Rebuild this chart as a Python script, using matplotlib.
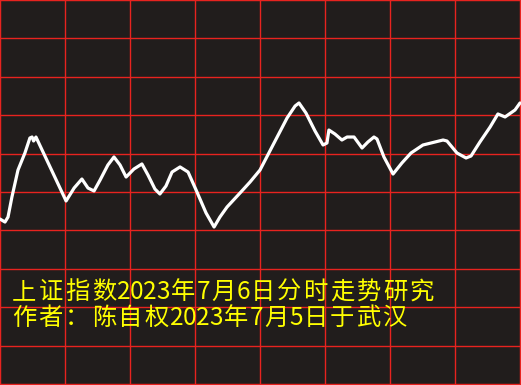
import matplotlib
matplotlib.use("Agg")
import matplotlib.pyplot as plt

# minutes since open (0..240) and index level
minutes = [0, 2.3, 3.7, 5.5, 8.3, 11.5, 13.8, 14.8, 15.5, 16.6, 30.5, 34.2, 37.8, 40.6,
           43.4, 46.2, 49.8, 52.6, 55.4, 58.2, 61.8, 65.5, 68.3, 71.5, 73.8, 76.6,
           79.4, 83.1, 86.8, 90.5, 95.1, 98.8, 101.5, 104.8, 111.2, 115.4, 120,
           126, 132.5, 136.2, 138, 141.2, 145.4, 149.1, 150.9, 151.8, 154.6, 157.8,
           160.2, 163.4, 167.1, 169.8, 172.6, 174, 177.2, 181.4, 185.5, 189.7,
           195.2, 204.5, 206.3, 210.9, 215.1, 217.4, 221.5, 226.2, 229.8, 233.1,
           237.7, 240]
index = [3201.48, 3201.09, 3201.74, 3204.35, 3207.86, 3210.08, 3212.03, 3212.16,
         3211.64, 3212.16, 3203.83, 3205.52, 3206.69, 3205.52, 3205.13, 3206.56,
         3208.52, 3209.56, 3208.52, 3206.95, 3207.99, 3208.65, 3207.21, 3205.39,
         3204.74, 3205.78, 3207.60, 3208.26, 3207.60, 3205.26, 3202.27, 3200.44,
         3201.74, 3203.05, 3205.00, 3206.30, 3207.86, 3211.12, 3214.64, 3216.20,
         3216.59, 3215.29, 3212.94, 3211.12, 3211.38, 3213.07, 3212.55, 3211.77,
         3212.16, 3212.16, 3210.73, 3211.51, 3212.16, 3211.90, 3209.56, 3207.34,
         3208.78, 3210.08, 3211.12, 3211.77, 3211.64, 3210.08, 3209.43, 3209.69,
         3211.51, 3213.46, 3215.16, 3214.77, 3215.68, 3216.59]

title1 = "上证指数2023年7月6日分时走势研究"
title2 = "作者：陈自权2023年7月5日于武汉"

bg = "#211d1c"
red = "#e8231f"
W, H = 521, 385

fig = plt.figure(figsize=(W / 100, H / 100), dpi=100, facecolor=bg)
ax = fig.add_axes([0, 0, 1, 1])
ax.set_facecolor(bg)

ax.plot(minutes, index, color="white", lw=2.3, solid_joinstyle="round", solid_capstyle="round", zorder=3)

ax.set_xlim(0, 240 * 521 / 520)
ax.set_ylim(3230 - 385 * 50 / 384, 3230)
ax.set_xticks(range(0, 241, 30))
ax.set_yticks(range(3180, 3231, 5))
ax.grid(True, color=red, lw=1.0)
ax.tick_params(length=0, labelleft=False, labelbottom=False)
for s in ax.spines.values():
    s.set_color(red)
    s.set_linewidth(1.5)

fnt = ["Noto Sans CJK SC", "DejaVu Sans"]


def put_line(s, x0, yc, adv=26.5):
    # fixed cell width like a bitmap song font: full width for CJK, half for digits
    x = x0
    for ch in s:
        w = adv / 2 if ch.isascii() else adv
        ax.text((x + w / 2) / W, 1 - yc / H, ch, transform=ax.transAxes, color="#ffff00",
                fontsize=17.5, family=fnt, va="center", ha="center", zorder=4)
        x += w


put_line(title1, 11, 292)
put_line(title2, 11, 318)

fig.savefig("out.png", dpi=100, facecolor=bg)
